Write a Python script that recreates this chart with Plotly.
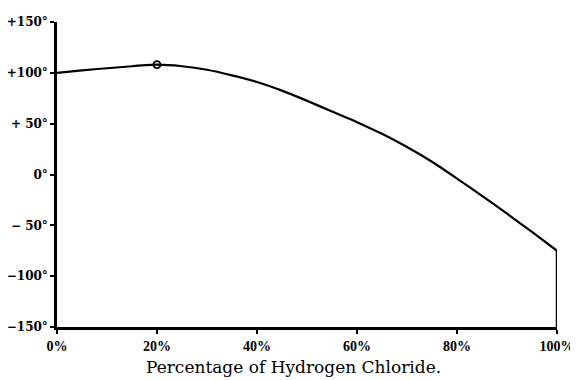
import plotly.graph_objects as go

# Percentage of HCl vs. boiling temperature
pct = [0, 5, 10, 15, 20, 25, 30, 35, 40, 45, 50,
       55, 60, 65, 70, 75, 80, 85, 90, 95, 100]
temp = [100, 102.5, 104.5, 106.5, 108, 106.5, 103, 97.5, 91, 82.5, 72.5,
        62, 51.5, 40, 27, 12.5, -4, -21, -38.5, -56.5, -75]

# maximum marked with an open circle
max_pct = [20]
max_temp = [108]

# closing line at 100 %
edge_pct = [100, 100]
edge_temp = [-75, -150]

y_ticks = [150, 100, 50, 0, -50, -100, -150]
y_text = ["+150°", "+100°", "+ 50°", "0°", "− 50°", "−100°", "−150°"]
x_ticks = [0, 20, 40, 60, 80, 100]
x_text = ["0%", "20%", "40%", "60%", "80%", "100%"]
x_title = "Percentage of Hydrogen Chloride."

SERIF = "DejaVu Serif, Liberation Serif, serif"
NARROW = "Liberation Serif, DejaVu Serif, serif"

fig = go.Figure()
fig.add_trace(go.Scatter(x=pct, y=temp, mode="lines",
                         line=dict(color="black", width=2.2, shape="spline", smoothing=0.5),
                         showlegend=False, hoverinfo="skip"))
fig.add_trace(go.Scatter(x=edge_pct, y=edge_temp, mode="lines", line=dict(color="black", width=2.5),
                         showlegend=False, hoverinfo="skip"))
fig.add_trace(go.Scatter(x=max_pct, y=max_temp, mode="markers",
                         marker=dict(symbol="circle-open", size=7, color="black", line=dict(width=1.8)),
                         showlegend=False, hoverinfo="skip"))

# the page adds an 8px body margin, so the figure is drawn 8px smaller
fig.update_layout(
    width=570, height=372,
    margin=dict(l=49, r=21, t=14, b=53),
    plot_bgcolor="white", paper_bgcolor="white",
    font=dict(family=SERIF, color="black"),
)
# axis title as annotation: it sits a bit left of the plot centre
fig.add_annotation(text=x_title, xref="paper", yref="paper", x=0.472, y=0,
                   yshift=-28, yanchor="top", showarrow=False,
                   font=dict(family=SERIF, size=17, color="black"))
fig.update_xaxes(
    range=[0, 100], tickvals=x_ticks, ticktext=x_text, automargin=False,
    showline=True, linecolor="black", linewidth=2.5, showgrid=False, zeroline=False,
    ticks="outside", ticklen=4, tickwidth=1.5, tickcolor="black",
    tickfont=dict(family=NARROW, size=14, weight="bold"),
)
fig.update_yaxes(
    range=[-150, 150], tickvals=y_ticks, ticktext=y_text, automargin=False,
    showline=True, linecolor="black", linewidth=2.5, showgrid=False, zeroline=False,
    ticks="outside", ticklen=4, tickwidth=1.5, tickcolor="black",
    tickfont=dict(family=SERIF, size=12, weight="bold"),
)

fig.write_html("out.html")
